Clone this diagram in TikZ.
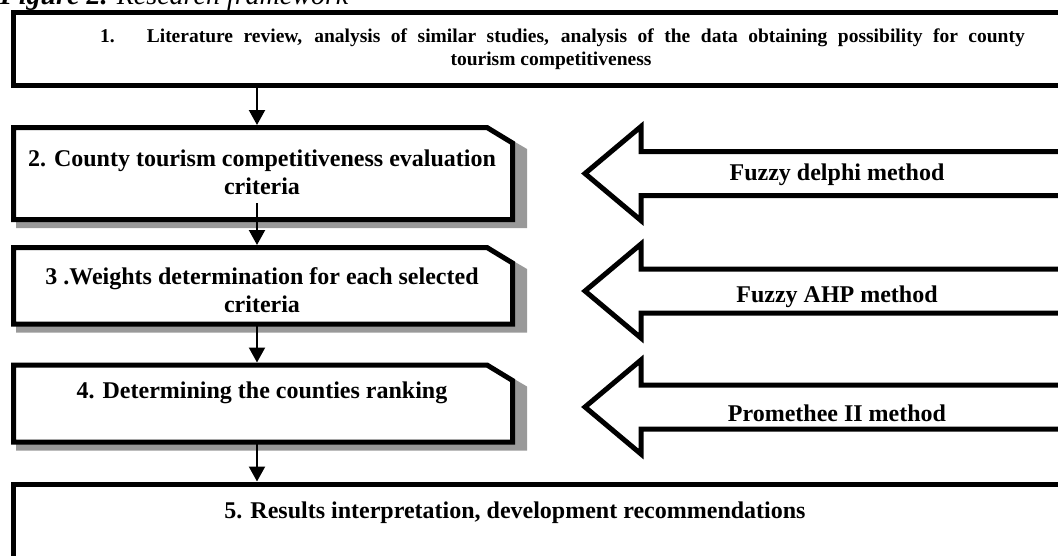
\documentclass[tikz,border=0pt]{standalone}
\usepackage{fontspec}
\setmainfont{Liberation Serif}
\usetikzlibrary{arrows.meta,calc}
\definecolor{shadowgray}{RGB}{153,153,153}
\begin{document}
\begin{tikzpicture}[x=1pt,y=-1pt,
  frame/.style={inner sep=0pt, outer sep=0pt},
  boxline/.style={line width=5pt, fill=white, line join=miter},
  blockline/.style={line width=5pt, fill=white, line join=miter},
  btext/.style={inner sep=0pt, align=center, font=\fontsize{24}{27.6}\selectfont\bfseries},
  stext/.style={inner sep=0pt, align=center, font=\fontsize{19.5}{22.5}\selectfont\bfseries},
  conn/.style={line width=2.2pt, -{Triangle[width=16pt,length=15pt]}, shorten >=2.5pt}]
\useasboundingbox (0,0) rectangle (1058,555);
\clip (0,0) rectangle (1058,555);
% title
\node[anchor=base west, inner sep=0pt, font=\fontsize{28}{30}\selectfont] (title) at (0,4)
  {\textbf{\textit{Figure 2.}} \textit{Research framework}};
% frames
\node[frame, minimum width=1066.5pt, minimum height=73pt] (b1) at (546.75,49) {};
\node[frame, minimum width=499pt, minimum height=92pt] (b2) at (263,173.5) {};
\node[frame, minimum width=499pt, minimum height=76.5pt] (b3) at (263,285.75) {};
\node[frame, minimum width=499pt, minimum height=77pt] (b4) at (263,403.5) {};
\node[frame, minimum width=1066.5pt, minimum height=116pt] (b5) at (546.75,542) {};
% plain boxes
\draw[boxline] (b1.north west) rectangle (b1.south east);
\draw[boxline] (b5.north west) rectangle (b5.south east);
% boxes with cut corner and shadow
\foreach \b in {b2,b3,b4} {
  \fill[shadowgray] ($(\b.south west)+(2.5,8.5)$) -- ($(\b.south east)+(14.5,8.5)$)
     -- ($(\b.north east)+(14.5,21.5)$) -- ($(\b.north east)+(-12,6)$)
     -- ($(\b.north west)+(2.5,6)$) -- cycle;
  \draw[boxline] (\b.north west) -- ($(\b.north east)+(-25.5,0)$)
     -- ($(\b.north east)+(0,15.5)$) -- (\b.south east) -- (\b.south west) -- cycle;
}
% block arrows
\foreach \yc in {173.5,291,407} {
  \draw[blockline] (585,\yc) -- (641,\yc-47) -- (641,\yc-22) -- (1080,\yc-22)
     -- (1080,\yc+22) -- (641,\yc+22) -- (641,\yc+47) -- cycle;
}
% texts
\node[stext, anchor=west] (t1a) at (100,38) {1.\hspace{32pt}\hbox to 878pt{Literature review, analysis of similar studies, analysis of the data obtaining possibility for county}};
\node[stext] (t1b) at (551,61) {tourism competitiveness};
\node[btext] (t2) at (262,172) {2. County tourism competitiveness evaluation\\criteria};
\node[btext] (t3) at (262,290) {3 .Weights determination for each selected\\criteria};
\node[btext] (t4) at (262,393) {4. Determining the counties ranking};
\node[btext] (t5) at (515,513) {5. Results interpretation, development recommendations};
\node[btext] (m1) at (837,175) {Fuzzy delphi method};
\node[btext] (m2) at (837,297) {Fuzzy AHP method};
\node[btext] (m3) at (837,413) {Promethee II method};
% connectors
\coordinate (ax) at (257,0);
\draw[conn] (b1.south -| ax) -- (b2.north -| ax);
\draw[conn] (b2.south -| ax) ++(0,-16.5) -- (b3.north -| ax);
\draw[conn] (b3.south -| ax) -- (b4.north -| ax);
\draw[conn] (b4.south -| ax) -- (b5.north -| ax);
\end{tikzpicture}
\end{document}
